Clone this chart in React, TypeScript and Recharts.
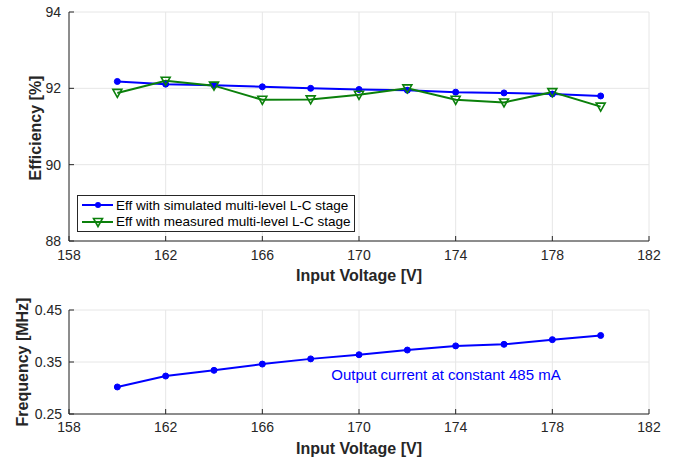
import React from 'react';
import { LineChart, Line, XAxis, YAxis, CartesianGrid, Legend } from 'recharts';

const voltages = [160, 162, 164, 166, 168, 170, 172, 174, 176, 178, 180];
const effSimulated = [92.18, 92.11, 92.08, 92.04, 92.0, 91.97, 91.95, 91.9, 91.88, 91.85, 91.8];
const effMeasured = [91.88, 92.2, 92.07, 91.7, 91.71, 91.83, 92.0, 91.7, 91.63, 91.9, 91.52];
const frequency = [0.302, 0.323, 0.334, 0.346, 0.356, 0.364, 0.373, 0.381, 0.384, 0.393, 0.401];
const voltageTicks = [158, 162, 166, 170, 174, 178, 182];
const effTicks = [88, 90, 92, 94];
const freqTicks = [0.25, 0.35, 0.45];
const simName = 'Eff with simulated multi-level L-C stage';
const measName = 'Eff with measured multi-level L-C stage';

const effData = voltages.map((v, i) => ({ v, sim: effSimulated[i], meas: effMeasured[i] }));
const freqData = voltages.map((v, i) => ({ v, f: frequency[i] }));

const FONT = '"Liberation Sans", Arial, Helvetica, sans-serif';
const AXIS = '#262626';
const BLUE = '#0000ff';
const GREEN = '#0b800b';
const tickFont = { fontSize: 14, fill: AXIS, fontFamily: FONT };

const TriangleDot = (props: any) => {
  const { cx, cy, key } = props;
  if (cx == null || cy == null) return null;
  return (
    <path
      key={key}
      d={`M${cx - 4.5},${cy - 3.5} L${cx + 4.5},${cy - 3.5} L${cx},${cy + 4.5} Z`}
      fill="none"
      stroke={GREEN}
      strokeWidth={1.6}
    />
  );
};

const LegendBox = () => (
  <div
    style={{
      width: 276,
      height: 35,
      border: `1px solid ${AXIS}`,
      background: '#fff',
      fontFamily: FONT,
      fontSize: 13.5,
      color: '#000',
    }}
  >
    {[
      { name: simName, color: BLUE, tri: false },
      { name: measName, color: GREEN, tri: true },
    ].map((e) => (
      <div key={e.name} style={{ display: 'flex', alignItems: 'center', height: 16.5, marginTop: e.tri ? 0 : 1 }}>
        <svg width={38} height={14} style={{ flex: 'none' }}>
          <line x1={4} x2={35} y1={7} y2={7} stroke={e.color} strokeWidth={2} />
          {e.tri ? (
            <path d="M15.5,3.5 L24.5,3.5 L20,11.5 Z" fill="none" stroke={e.color} strokeWidth={1.6} />
          ) : (
            <circle cx={20} cy={7} r={3} fill={e.color} />
          )}
        </svg>
        <span style={{ whiteSpace: 'nowrap' }}>{e.name}</span>
      </div>
    ))}
  </div>
);

const titleStyle: React.CSSProperties = {
  position: 'absolute',
  fontFamily: FONT,
  fontWeight: 'bold',
  fontSize: 16,
  color: AXIS,
  whiteSpace: 'nowrap',
};

export default function App() {
  return (
    <div style={{ position: 'absolute', left: 0, top: 0, width: 683, height: 460, background: '#fff' }}>
      <div style={{ position: 'absolute', left: 0, top: 0 }}>
        <LineChart width={683} height={300} data={effData} margin={{ top: 12, right: 34, bottom: 0, left: 0 }}>
          <CartesianGrid stroke="#e6e6e6" />
          <XAxis
            dataKey="v"
            type="number"
            domain={[158, 182]}
            ticks={voltageTicks}
            height={59}
            stroke={AXIS}
            tick={tickFont}
            tickSize={-5}
            tickMargin={14}
          />
          <XAxis
            xAxisId="top"
            orientation="top"
            dataKey="v"
            type="number"
            domain={[158, 182]}
            ticks={voltageTicks}
            height={0}
            stroke={AXIS}
            tick={false}
            tickSize={-5}
          />
          <YAxis
            type="number"
            domain={[88, 94]}
            ticks={effTicks}
            width={69}
            stroke={AXIS}
            tick={tickFont}
            tickSize={-5}
            tickMargin={13}
          />
          <YAxis
            yAxisId="right"
            orientation="right"
            type="number"
            domain={[88, 94]}
            ticks={effTicks}
            width={0}
            stroke={AXIS}
            tick={false}
            tickSize={-5}
          />
          <Legend
            layout="horizontal"
            verticalAlign="middle"
            align="center"
            content={() => <LegendBox />}
            wrapperStyle={{ left: 77, top: 195, width: 'auto' }}
          />
          <Line
            name={simName}
            dataKey="sim"
            stroke={BLUE}
            strokeWidth={2}
            dot={{ r: 3, fill: BLUE, stroke: BLUE, strokeWidth: 1 }}
            isAnimationActive={false}
          />
          <Line
            name={measName}
            dataKey="meas"
            stroke={GREEN}
            strokeWidth={2}
            dot={TriangleDot}
            isAnimationActive={false}
          />
        </LineChart>
      </div>
      <div style={{ position: 'absolute', left: 0, top: 296 }}>
        <LineChart width={683} height={164} data={freqData} margin={{ top: 14, right: 34, bottom: 0, left: 0 }}>
          <CartesianGrid stroke="#e6e6e6" />
          <XAxis
            dataKey="v"
            type="number"
            domain={[158, 182]}
            ticks={voltageTicks}
            height={46}
            stroke={AXIS}
            tick={tickFont}
            tickSize={-5}
            tickMargin={13}
          />
          <XAxis
            xAxisId="top"
            orientation="top"
            dataKey="v"
            type="number"
            domain={[158, 182]}
            ticks={voltageTicks}
            height={0}
            stroke={AXIS}
            tick={false}
            tickSize={-5}
          />
          <YAxis
            type="number"
            domain={[0.25, 0.45]}
            ticks={freqTicks}
            tickFormatter={(t: number) => t.toFixed(2)}
            width={69}
            stroke={AXIS}
            tick={tickFont}
            tickSize={-5}
            tickMargin={12}
          />
          <YAxis
            yAxisId="right"
            orientation="right"
            type="number"
            domain={[0.25, 0.45]}
            ticks={freqTicks}
            width={0}
            stroke={AXIS}
            tick={false}
            tickSize={-5}
          />
          <Line
            dataKey="f"
            stroke={BLUE}
            strokeWidth={2}
            dot={{ r: 3, fill: BLUE, stroke: BLUE, strokeWidth: 1 }}
            isAnimationActive={false}
          />
        </LineChart>
      </div>
      <div style={{ ...titleStyle, left: 359, top: 276, transform: 'translate(-50%, -50%)' }}>Input Voltage [V]</div>
      <div style={{ ...titleStyle, left: 359, top: 449, transform: 'translate(-50%, -50%)' }}>Input Voltage [V]</div>
      <div style={{ ...titleStyle, left: 36, top: 128, transform: 'translate(-50%, -50%) rotate(-90deg)' }}>
        Efficiency [%]
      </div>
      <div style={{ ...titleStyle, left: 23, top: 362, transform: 'translate(-50%, -50%) rotate(-90deg)' }}>
        Frequency [MHz]
      </div>
      <div
        style={{
          position: 'absolute',
          left: 446,
          top: 374,
          transform: 'translate(-50%, -50%)',
          fontFamily: FONT,
          fontSize: 15,
          color: BLUE,
          whiteSpace: 'nowrap',
        }}
      >
        Output current at constant 485 mA
      </div>
    </div>
  );
}
